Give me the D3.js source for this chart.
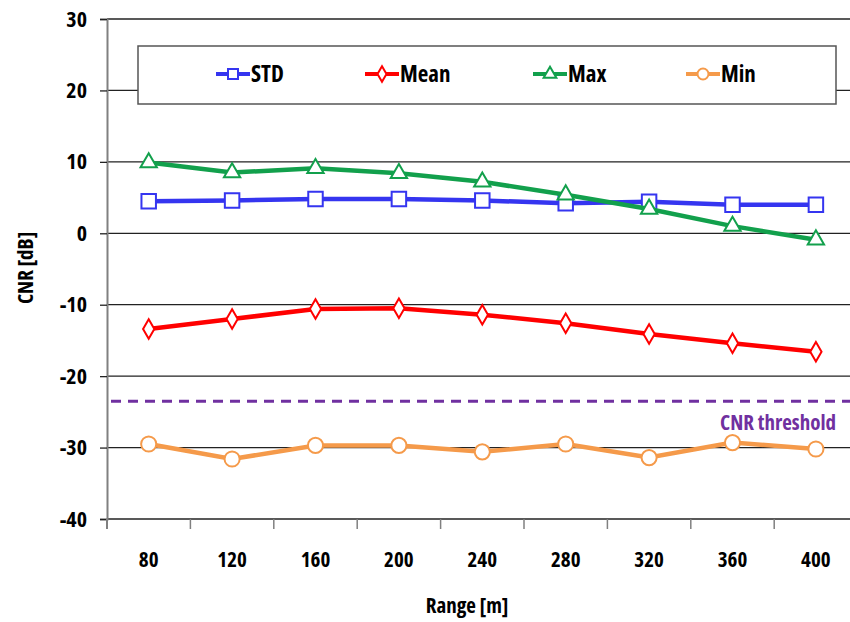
<!DOCTYPE html>
<html>
<head>
<meta charset="utf-8">
<script src="https://cdn.jsdelivr.net/npm/d3@7"></script>
<style>
  body { margin: 0; background: #fff; }
  svg text { font-family: "Open Sans", sans-serif; font-stretch: 75%; font-variation-settings: "wdth" 75; font-weight: bold; }
</style>
</head>
<body>
<svg></svg>
<script>
// CNR vs range, four series plus a threshold line
var ranges = ["80", "120", "160", "200", "240", "280", "320", "360", "400"];
var stdVals  = [4.5, 4.6, 4.8, 4.8, 4.6, 4.2, 4.4, 4.0, 4.0];
var meanVals = [-13.4, -12.0, -10.6, -10.5, -11.4, -12.6, -14.1, -15.4, -16.6];
var maxVals  = [9.9, 8.5, 9.1, 8.4, 7.2, 5.4, 3.4, 1.0, -0.9];
var minVals  = [-29.5, -31.6, -29.7, -29.7, -30.6, -29.5, -31.4, -29.3, -30.2];
var yTicks = [-40, -30, -20, -10, 0, 10, 20, 30];
var threshold = -23.5;

var width = 850;
var height = 622;
var plotLeft = 107, plotTop = 19, plotBottom = 519;

var svg = d3.select("svg")
      .attr("width", width)
      .attr("height", height);

var xScale = d3.scaleBand()
      .domain(ranges)
      .range([plotLeft, plotLeft + 9 * 83.4]);

var yScale = d3.scaleLinear()
      .domain([-40, 30])
      .range([plotBottom, plotTop]);

// horizontal gridlines
svg.append("g")
      .selectAll("line")
      .data(yTicks)
      .enter()
      .append("line")
      .attr("x1", plotLeft)
      .attr("x2", width)
      .attr("y1", d => yScale(d))
      .attr("y2", d => yScale(d))
      .attr("stroke", "#222")
      .attr("stroke-width", 1.3);

// y axis (plain hyphen for negatives, like the original)
var yAxis = svg.append("g")
      .attr("transform", "translate(" + plotLeft + ",0)")
      .call(d3.axisLeft(yScale).tickValues(yTicks).tickFormat(d => String(d)).tickSize(7).tickPadding(13));
yAxis.select(".domain").attr("stroke", "#808080").attr("stroke-width", 2);
yAxis.selectAll(".tick line").attr("stroke", "#222").attr("stroke-width", 1.3);
yAxis.selectAll(".tick text")
      .style("font-size", "22px")
      .attr("fill", "#000");

// x axis: labels at band centres, ticks at band edges
var xAxis = svg.append("g")
      .attr("transform", "translate(0," + plotBottom + ")")
      .call(d3.axisBottom(xScale).tickSize(0).tickPadding(33));
xAxis.select(".domain").remove();
xAxis.selectAll(".tick text")
      .style("font-size", "21px")
      .attr("fill", "#000");

svg.append("g")
      .selectAll("line")
      .data(ranges)
      .enter()
      .append("line")
      .attr("x1", d => xScale(d))
      .attr("x2", d => xScale(d))
      .attr("y1", plotBottom)
      .attr("y2", plotBottom + 10)
      .attr("stroke", "#808080")
      .attr("stroke-width", 1.5);

svg.append("line")
      .attr("x1", plotLeft).attr("x2", plotLeft)
      .attr("y1", plotBottom).attr("y2", plotBottom + 10)
      .attr("stroke", "#808080")
      .attr("stroke-width", 2);

// axis titles
svg.append("text")
      .attr("x", 467)
      .attr("y", 613)
      .style("text-anchor", "middle")
      .style("font-size", "21px")
      .text("Range [m]");
svg.append("text")
      .attr("transform", "rotate(-90)")
      .attr("x", -268)
      .attr("y", 33)
      .style("text-anchor", "middle")
      .style("font-size", "21px")
      .text("CNR [dB]");

// threshold
svg.append("line")
      .attr("x1", plotLeft + 4)
      .attr("x2", width)
      .attr("y1", yScale(threshold))
      .attr("y2", yScale(threshold))
      .attr("stroke", "#7030A0")
      .attr("stroke-width", 3)
      .attr("stroke-dasharray", "10,7");
svg.append("text")
      .attr("x", 836)
      .attr("y", 430)
      .style("text-anchor", "end")
      .style("font-size", "21px")
      .attr("fill", "#7030A0")
      .text("CNR threshold");

// marker shapes: plot size and smaller legend size
var shapeTypes = {
      square: d3.symbolSquare,
      diamond: d3.symbolDiamond,
      triangle: d3.symbolTriangle,
      circle: d3.symbolCircle
};
var plotSizes = { square: 210, diamond: 110, triangle: 115, circle: 180 };
var legendSizes = { square: 100, diamond: 70, triangle: 70, circle: 95 };

var series = [
      { name: "STD", values: stdVals, color: "#3535F0", shape: "square", lx: 233 },
      { name: "Mean", values: meanVals, color: "#FF0000", shape: "diamond", lx: 382 },
      { name: "Max", values: maxVals, color: "#12A04C", shape: "triangle", lx: 550 },
      { name: "Min", values: minVals, color: "#F59A4A", shape: "circle", lx: 703 }
];

var line = d3.line()
      .x((d, i) => xScale(ranges[i]) + xScale.bandwidth() / 2)
      .y(d => yScale(d));

var drawOrder = [series[3], series[1], series[0], series[2]];
drawOrder.forEach(function(s) {
      svg.append("path")
            .datum(s.values)
            .attr("d", line)
            .attr("fill", "none")
            .attr("stroke", s.color)
            .attr("stroke-width", 4.5);
      svg.append("g")
            .selectAll("path")
            .data(s.values)
            .enter()
            .append("path")
            .attr("d", d3.symbol().type(shapeTypes[s.shape]).size(plotSizes[s.shape]))
            .attr("transform", (d, i) => "translate(" + (xScale(ranges[i]) + xScale.bandwidth() / 2) + "," + yScale(d) + ")")
            .attr("fill", "#fff")
            .attr("stroke", s.color)
            .attr("stroke-width", 2);
});

// legend
svg.append("rect")
      .attr("x", 138)
      .attr("y", 46)
      .attr("width", 698)
      .attr("height", 58)
      .attr("fill", "#fff")
      .attr("stroke", "#555")
      .attr("stroke-width", 1.5);

var legend = svg.append("g")
      .selectAll("g")
      .data(series)
      .enter()
      .append("g")
      .attr("transform", d => "translate(" + d.lx + ",74)");
legend.append("line")
      .attr("x1", -17).attr("x2", 17)
      .attr("stroke", d => d.color)
      .attr("stroke-width", 4);
legend.append("path")
      .attr("d", d => d3.symbol().type(shapeTypes[d.shape]).size(legendSizes[d.shape])())
      .attr("fill", "#fff")
      .attr("stroke", d => d.color)
      .attr("stroke-width", 2);
legend.append("text")
      .attr("x", 18)
      .attr("y", 8)
      .style("font-size", "23px")
      .text(d => d.name);
</script>
</body>
</html>
